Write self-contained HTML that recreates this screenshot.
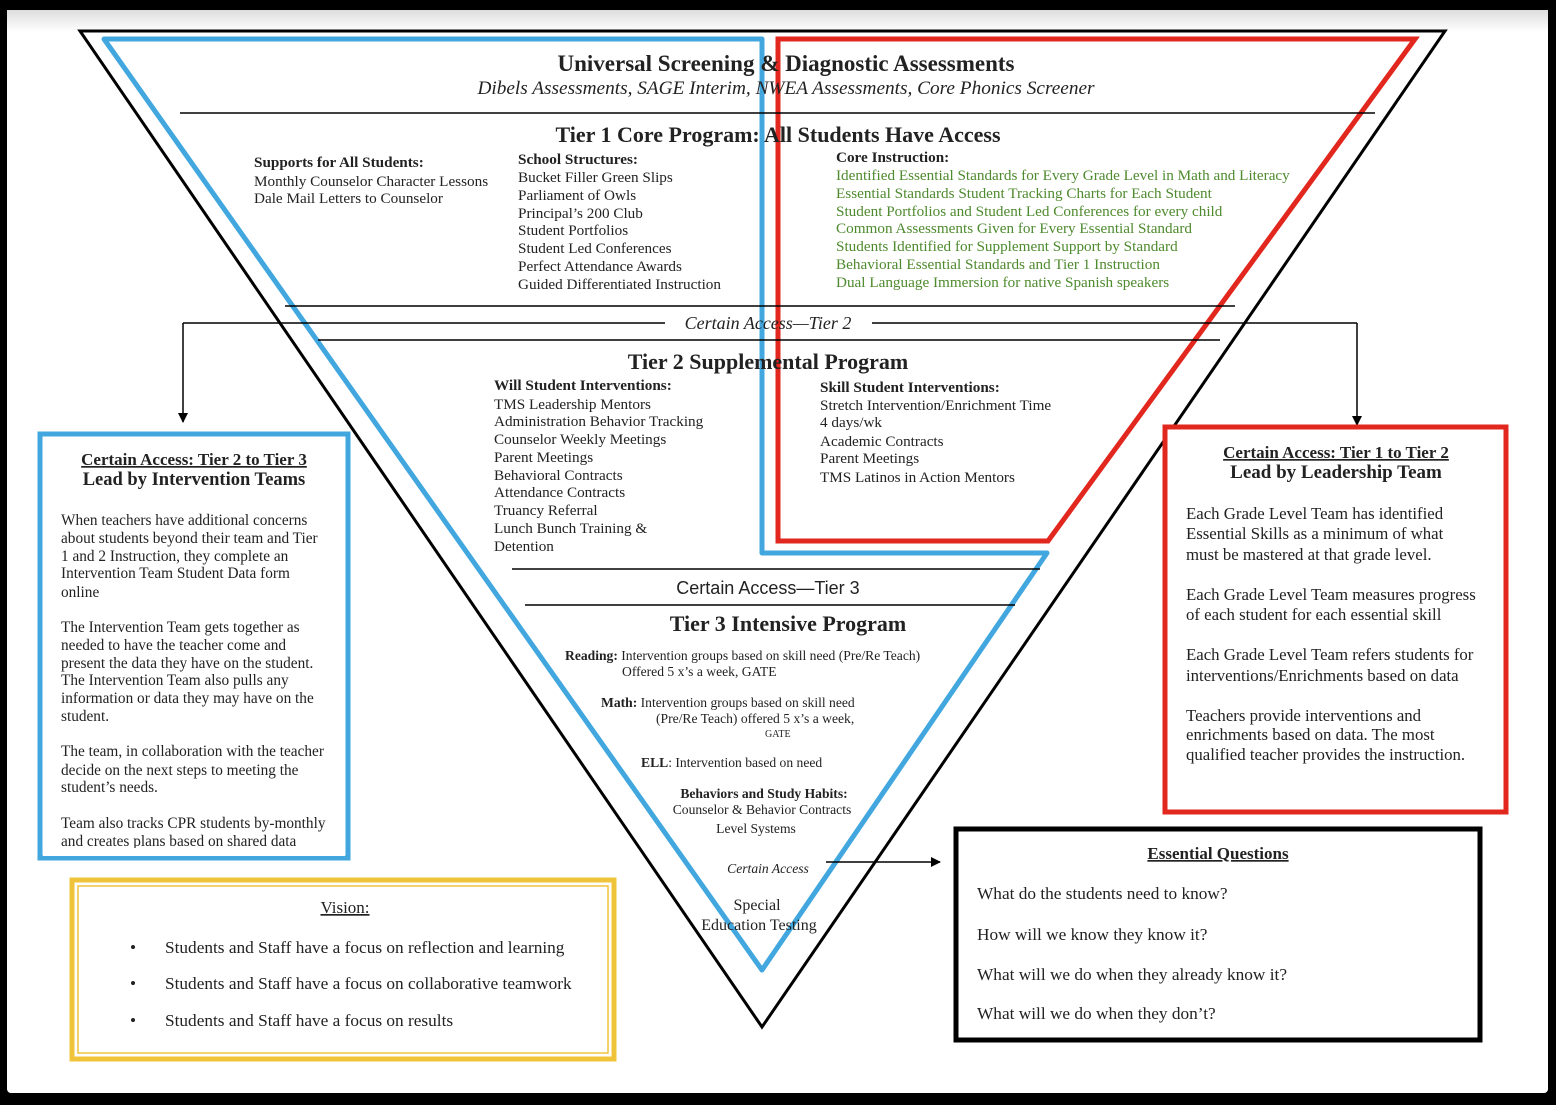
<!DOCTYPE html>
<html><head><meta charset="utf-8"><style>
html,body{margin:0;padding:0;background:#000;}
svg{display:block}
text{font-family:"Liberation Serif",serif;fill:#222}
.g{fill:#4e8a2e}
.b{font-weight:bold}
.i{font-style:italic}
</style></head><body>
<svg width="1556" height="1105" viewBox="0 0 1556 1105" xmlns="http://www.w3.org/2000/svg">
<defs><linearGradient id="tg" x1="0" y1="0" x2="0" y2="1"><stop offset="0" stop-color="#ddd"/><stop offset="1" stop-color="#fff"/></linearGradient>
<marker id="ah" markerWidth="10" markerHeight="10" refX="9" refY="5" orient="auto" markerUnits="userSpaceOnUse"><path d="M0,0 L10,5 L0,10 z" fill="#000"/></marker></defs>
<rect x="0" y="0" width="1556" height="1105" fill="#000"/>
<rect x="7" y="10" width="1541" height="1083" fill="#fff" rx="4"/>
<rect x="7" y="10" width="1541" height="22" fill="url(#tg)"/>
<polygon points="80,31 1445,31 762,1027" fill="none" stroke="#000" stroke-width="3"/>
<polygon points="104,39 762,39 762,553 1047,553 762,970" fill="none" stroke="#41a7de" stroke-width="5" stroke-linejoin="round"/>
<polygon points="778,39 1415,39 1048,541 778,541" fill="none" stroke="#e2271e" stroke-width="5"/>
<line x1="180" y1="113" x2="1375" y2="113" stroke="#000" stroke-width="1.5"/>
<line x1="285" y1="306" x2="1235" y2="306" stroke="#000" stroke-width="1.5"/>
<line x1="183" y1="323" x2="665" y2="323" stroke="#000" stroke-width="1.5"/>
<line x1="872" y1="323" x2="1357" y2="323" stroke="#000" stroke-width="1.5"/>
<line x1="183" y1="323" x2="183" y2="422" stroke="#000" stroke-width="1.5" marker-end="url(#ah)"/>
<line x1="1357" y1="323" x2="1357" y2="425" stroke="#000" stroke-width="1.5" marker-end="url(#ah)"/>
<line x1="318" y1="340" x2="1220" y2="340" stroke="#000" stroke-width="1.5"/>
<line x1="512" y1="569" x2="1040" y2="569" stroke="#000" stroke-width="1.5"/>
<line x1="525" y1="605" x2="1015" y2="605" stroke="#000" stroke-width="1.5"/>
<line x1="826" y1="862" x2="940" y2="862" stroke="#000" stroke-width="1.5" marker-end="url(#ah)"/>
<rect x="40" y="434" width="308" height="424" fill="#fff" stroke="#41a7de" stroke-width="5"/>
<rect x="1165" y="427" width="341" height="385" fill="#fff" stroke="#e2271e" stroke-width="5"/>
<rect x="956" y="829" width="524" height="211" fill="#fff" stroke="#000" stroke-width="5"/>
<rect x="72" y="880" width="542" height="179" fill="#fff" stroke="#f0c43a" stroke-width="5"/>
<rect x="78" y="886" width="530" height="167" fill="none" stroke="#f0c43a" stroke-width="1.5"/>
<text x="786" y="71" text-anchor="middle" class="b" font-size="23">Universal Screening &amp; Diagnostic Assessments</text>
<text x="786" y="94" text-anchor="middle" class="i" font-size="19.3">Dibels Assessments, SAGE Interim, NWEA Assessments, Core Phonics Screener</text>
<text x="778" y="142" text-anchor="middle" class="b" font-size="22">Tier 1 Core Program: All Students Have Access</text>
<g font-size="15.2">
<text x="254" y="167" class="b">Supports for All Students:</text>
<text x="254" y="186">Monthly Counselor Character Lessons</text>
<text x="254" y="203">Dale Mail Letters to Counselor</text>
<text x="518" y="164" class="b">School Structures:</text>
<text x="518" y="182">Bucket Filler Green Slips</text>
<text x="518" y="200">Parliament of Owls</text>
<text x="518" y="218">Principal’s 200 Club</text>
<text x="518" y="235">Student Portfolios</text>
<text x="518" y="253">Student Led Conferences</text>
<text x="518" y="271">Perfect Attendance Awards</text>
<text x="518" y="289">Guided Differentiated Instruction</text>
<text x="836" y="162" class="b">Core Instruction:</text>
<text x="836" y="180" class="g">Identified Essential Standards for Every Grade Level in Math and Literacy</text>
<text x="836" y="198" class="g">Essential Standards Student Tracking Charts for Each Student</text>
<text x="836" y="216" class="g">Student Portfolios and Student Led Conferences for every child</text>
<text x="836" y="233" class="g">Common Assessments Given for Every Essential Standard</text>
<text x="836" y="251" class="g">Students Identified for Supplement Support by Standard</text>
<text x="836" y="269" class="g">Behavioral Essential Standards and Tier 1 Instruction</text>
<text x="836" y="287" class="g">Dual Language Immersion for native Spanish speakers</text>
</g>
<text x="768" y="329" text-anchor="middle" class="i" font-size="18">Certain Access—Tier 2</text>
<text x="768" y="369" text-anchor="middle" class="b" font-size="22">Tier 2 Supplemental Program</text>
<g font-size="15.2">
<text x="494" y="390" class="b">Will Student Interventions:</text>
<text x="494" y="409">TMS Leadership Mentors</text>
<text x="494" y="426">Administration Behavior Tracking</text>
<text x="494" y="444">Counselor Weekly Meetings</text>
<text x="494" y="462">Parent Meetings</text>
<text x="494" y="480">Behavioral Contracts</text>
<text x="494" y="497">Attendance Contracts</text>
<text x="494" y="515">Truancy Referral</text>
<text x="494" y="533">Lunch Bunch Training &amp;</text>
<text x="494" y="551">Detention</text>
<text x="820" y="392" class="b">Skill Student Interventions:</text>
<text x="820" y="410">Stretch Intervention/Enrichment Time</text>
<text x="820" y="427">4 days/wk</text>
<text x="820" y="446">Academic Contracts</text>
<text x="820" y="463">Parent Meetings</text>
<text x="820" y="482">TMS Latinos in Action Mentors</text>
</g>
<text x="768" y="594" text-anchor="middle" font-size="18" style="font-family:'Liberation Sans',sans-serif">Certain Access—Tier 3</text>
<text x="788" y="631" text-anchor="middle" class="b" font-size="22">Tier 3 Intensive Program</text>
<g font-size="13.6">
<text x="565" y="660"><tspan class="b">Reading:</tspan>  Intervention groups based on skill need (Pre/Re Teach)</text>
<text x="622" y="676">Offered 5 x’s a week, GATE</text>
<text x="601" y="707"><tspan class="b">Math:</tspan> Intervention groups based on skill need</text>
<text x="656" y="723">(Pre/Re Teach) offered 5 x’s a week,</text>
<text x="765" y="737" font-size="10">GATE</text>
<text x="641" y="767"><tspan class="b">ELL</tspan>: Intervention based on need</text>
<text x="764" y="798" text-anchor="middle" class="b">Behaviors and Study Habits:</text>
<text x="762" y="814" text-anchor="middle">Counselor &amp; Behavior Contracts</text>
<text x="756" y="833" text-anchor="middle">Level Systems</text>
<text x="768" y="873" text-anchor="middle" class="i">Certain Access</text>
</g>
<text x="757" y="910" text-anchor="middle" font-size="16">Special</text>
<text x="759" y="930" text-anchor="middle" font-size="16">Education Testing</text>
<text x="194" y="465" text-anchor="middle" class="b" font-size="17" text-decoration="underline">Certain Access:  Tier 2 to Tier 3</text>
<text x="194" y="485" text-anchor="middle" class="b" font-size="18.5">Lead by Intervention Teams</text>
<g font-size="15.3">
<text x="61" y="525">When teachers have additional concerns</text>
<text x="61" y="543">about students beyond their team and Tier</text>
<text x="61" y="561">1 and 2 Instruction, they complete an</text>
<text x="61" y="578">Intervention Team Student Data form</text>
<text x="61" y="597">online</text>
<text x="61" y="632">The Intervention Team gets together as</text>
<text x="61" y="650">needed to have the teacher come and</text>
<text x="61" y="668">present the data they have on the student.</text>
<text x="61" y="685">The Intervention Team also pulls any</text>
<text x="61" y="703">information or data they may have on the</text>
<text x="61" y="721">student.</text>
<text x="61" y="756">The team, in collaboration with the teacher</text>
<text x="61" y="775">decide on the next steps to meeting the</text>
<text x="61" y="792">student’s needs.</text>
<text x="61" y="828">Team also tracks CPR students by-monthly</text>
<text x="61" y="846">and creates plans based on shared data</text>
</g>
<rect x="43" y="848" width="302" height="8" fill="#fff"/>
<text x="1336" y="458" text-anchor="middle" class="b" font-size="17" text-decoration="underline">Certain Access:  Tier 1 to Tier 2</text>
<text x="1336" y="478" text-anchor="middle" class="b" font-size="19">Lead by Leadership Team</text>
<g font-size="16.8">
<text x="1186" y="519">Each Grade Level Team has identified</text>
<text x="1186" y="539">Essential Skills as a minimum of what</text>
<text x="1186" y="560">must be mastered at that grade level.</text>
<text x="1186" y="600">Each Grade Level Team measures progress</text>
<text x="1186" y="620">of each student for each essential skill</text>
<text x="1186" y="660">Each Grade Level Team refers students for</text>
<text x="1186" y="681">interventions/Enrichments based on data</text>
<text x="1186" y="721">Teachers provide interventions and</text>
<text x="1186" y="740">enrichments based on data.  The most</text>
<text x="1186" y="760">qualified teacher provides the instruction.</text>
</g>
<text x="1218" y="859" text-anchor="middle" class="b" font-size="17" text-decoration="underline">Essential Questions</text>
<g font-size="17.3">
<text x="977" y="899">What do the students need to know?</text>
<text x="977" y="940">How will we know they know it?</text>
<text x="977" y="980">What will we do when they already know it?</text>
<text x="977" y="1019">What will we do when they don’t?</text>
</g>
<text x="345" y="913" text-anchor="middle" font-size="17" text-decoration="underline">Vision:</text>
<g font-size="17.3">
<text x="130" y="953">•</text><text x="165" y="953">Students and Staff have a focus on reflection and learning</text>
<text x="130" y="989">•</text><text x="165" y="989">Students and Staff have a focus on collaborative teamwork</text>
<text x="130" y="1026">•</text><text x="165" y="1026">Students and Staff have a focus on results</text>
</g>
</svg>
</body></html>
